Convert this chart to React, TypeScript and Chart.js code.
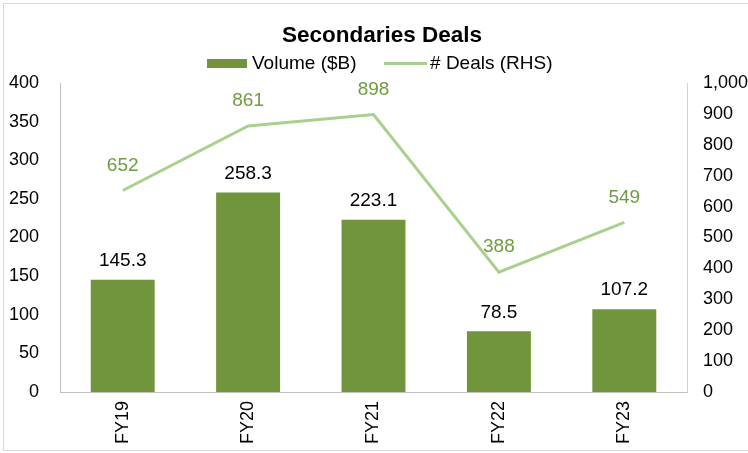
import React, { useEffect, useRef } from "react";
import { Chart, registerables } from "chart.js";

Chart.register(...registerables);

const categories = ["FY19", "FY20", "FY21", "FY22", "FY23"];
const volumeB = [145.3, 258.3, 223.1, 78.5, 107.2];
const dealCounts = [652, 861, 898, 388, 549];
const leftTicks = [0, 50, 100, 150, 200, 250, 300, 350, 400];
const rightTicks = [0, 100, 200, 300, 400, 500, 600, 700, 800, 900, 1000];

const FONT = "'Liberation Sans', Arial, sans-serif";
const BAR_COLOR = "#71953C";
const LINE_COLOR = "#A9D18E";
const LINE_LABEL_COLOR = "#6F9C40";

function makeSwatch(kind: "rect" | "line"): HTMLCanvasElement {
  const c = document.createElement("canvas");
  const w = kind === "rect" ? 40 : 43;
  const h = 9;
  c.width = w;
  c.height = h;
  const g = c.getContext("2d") as CanvasRenderingContext2D;
  if (kind === "rect") {
    g.fillStyle = BAR_COLOR;
    g.fillRect(0, 0, w, h);
  } else {
    g.fillStyle = LINE_COLOR;
    g.fillRect(0, 3, w, 3);
  }
  return c;
}

const valueLabels = {
  id: "valueLabels",
  afterDatasetsDraw(chart: any) {
    const ctx = chart.ctx;
    ctx.save();
    ctx.font = `19px ${FONT}`;
    ctx.textAlign = "center";
    ctx.textBaseline = "middle";
    const barMeta = chart.getDatasetMeta(0);
    barMeta.data.forEach((el: any, i: number) => {
      ctx.fillStyle = "#000000";
      ctx.fillText(volumeB[i].toFixed(1), el.x, el.y - 19);
    });
    const lineMeta = chart.getDatasetMeta(1);
    lineMeta.data.forEach((el: any, i: number) => {
      ctx.fillStyle = LINE_LABEL_COLOR;
      ctx.fillText(String(dealCounts[i]), el.x, el.y - 25);
    });
    ctx.restore();
  },
};

export default function App() {
  const ref = useRef<HTMLCanvasElement>(null);
  useEffect(() => {
    document.body.style.margin = "0";
    const barSwatch = makeSwatch("rect");
    const lineSwatch = makeSwatch("line");
    const chart = new Chart(ref.current as HTMLCanvasElement, {
      type: "bar",
      data: {
        labels: categories,
        datasets: [
          {
            type: "bar",
            label: "Volume ($B)",
            data: volumeB,
            backgroundColor: BAR_COLOR,
            borderWidth: 0,
            categoryPercentage: 1,
            barPercentage: 0.51,
            yAxisID: "y",
          } as any,
          {
            type: "line",
            label: "# Deals (RHS)",
            data: dealCounts,
            borderColor: LINE_COLOR,
            backgroundColor: LINE_COLOR,
            borderWidth: 3,
            pointRadius: 0,
            tension: 0,
            yAxisID: "y1",
          } as any,
        ],
      },
      options: {
        responsive: false,
        animation: false,
        layout: { padding: { left: 0, right: -16, top: 0, bottom: 0 } },
        plugins: {
          tooltip: { enabled: false },
          title: {
            display: true,
            text: "Secondaries Deals",
            color: "#000000",
            font: { family: FONT, size: 22.5, weight: "bold" },
            padding: { top: 22, bottom: -28 },
          },
          legend: {
            display: true,
            labels: {
              color: "#000000",
              font: { family: FONT, size: 19 },
              usePointStyle: true,
              pointStyleWidth: 31,
              boxWidth: 31,
              boxHeight: 9,
              padding: 33,
              generateLabels: () => [
                {
                  text: "Volume ($B)",
                  fillStyle: BAR_COLOR,
                  strokeStyle: BAR_COLOR,
                  lineWidth: 0,
                  pointStyle: barSwatch,
                  datasetIndex: 0,
                  fontColor: "#000000",
                },
                {
                  text: "# Deals (RHS)",
                  fillStyle: LINE_COLOR,
                  strokeStyle: LINE_COLOR,
                  lineWidth: 0,
                  pointStyle: lineSwatch,
                  datasetIndex: 1,
                  fontColor: "#000000",
                },
              ],
            },
          },
        },
        scales: {
          x: {
            grid: { display: false, drawTicks: false },
            border: { display: true, color: "#BFBFBF", width: 1 },
            ticks: {
              color: "#000000",
              font: { family: FONT, size: 18 },
              minRotation: 90,
              maxRotation: 90,
              padding: 9,
            },
            afterFit: (s: any) => {
              s.height = 61;
            },
          },
          y: {
            position: "left",
            min: 0,
            max: 400,
            afterBuildTicks: (s: any) => {
              s.ticks = leftTicks.map((v) => ({ value: v }));
            },
            grid: { display: false, drawTicks: false },
            border: { display: true, color: "#BFBFBF", width: 1 },
            ticks: {
              color: "#000000",
              font: { family: FONT, size: 18 },
              padding: 21,
              callback: (v: any) => String(v),
            },
            afterFit: (s: any) => {
              s.width = 60;
            },
          },
          y1: {
            position: "right",
            min: 0,
            max: 1000,
            afterBuildTicks: (s: any) => {
              s.ticks = rightTicks.map((v) => ({ value: v }));
            },
            grid: { display: false, drawTicks: false },
            border: { display: true, color: "#D0D0D0", width: 1 },
            ticks: {
              color: "#000000",
              font: { family: FONT, size: 18 },
              padding: 16,
              callback: (v: any) => Number(v).toLocaleString("en-US"),
            },
            afterFit: (s: any) => {
              s.width = 77;
            },
          },
        },
      } as any,
      plugins: [valueLabels],
    });
    return () => chart.destroy();
  }, []);

  return (
    <div style={{ position: "fixed", left: 0, top: 0, width: 748, height: 453, background: "#ffffff", overflow: "hidden" }}>
      <div
        style={{
          position: "absolute",
          left: 3,
          top: 3,
          width: 800,
          height: 448,
          borderTop: "1px solid #D9D9D9",
          borderLeft: "1px solid #D9D9D9",
          borderBottom: "1px solid #D9D9D9",
          boxSizing: "border-box",
        }}
      />
      <canvas ref={ref} width={748} height={453} style={{ position: "absolute", left: 0, top: 0 }} />
    </div>
  );
}
